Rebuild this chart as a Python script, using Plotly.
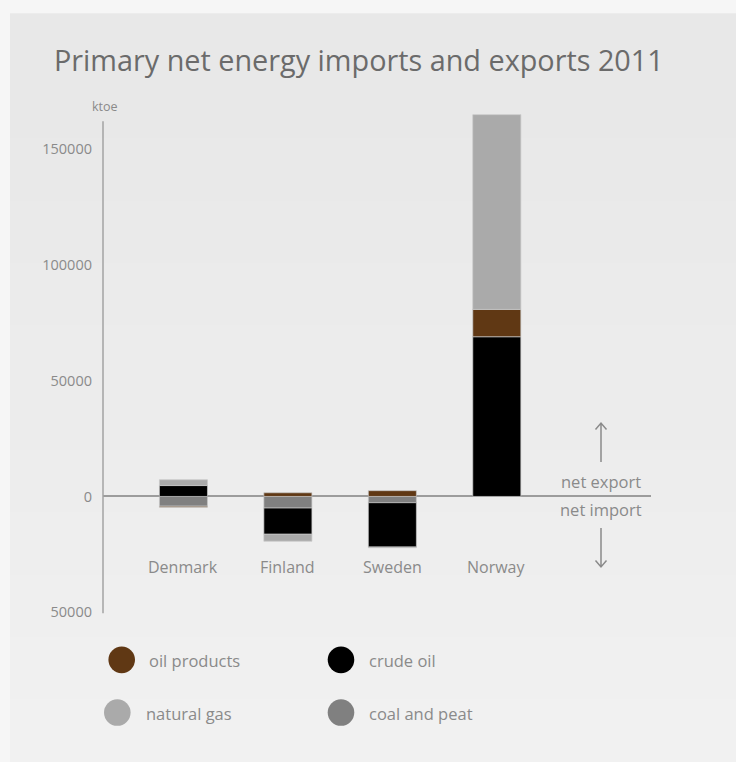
import plotly.graph_objects as go

# ---------------- data ----------------
countries = ["Denmark", "Finland", "Sweden", "Norway"]
coal_and_peat = [-4200, -5000, -2700, 0]
crude_oil = [4700, -11300, -19100, 68900]
oil_products = [-430, 1600, 2500, 11800]
natural_gas = [2500, -3000, -300, 84000]

y_tickvals = [-50000, 0, 50000, 100000, 150000]
y_ticktext = ["50000", "0", "50000", "100000", "150000"]

legend_order = ["oil products", "crude oil", "natural gas", "coal and peat"]
colors = {
    "oil products": "#603814",
    "crude oil": "#000000",
    "natural gas": "#aaaaaa",
    "coal and peat": "#808080",
}

# ---------------- geometry ----------------
W, H = 736, 762
L, R, T, B = 103, 85, 106.7, 144.9
PW, PH = W - L - R, H - T - B


def px(x):
    return (x - L) / PW


def py(y):
    return 1 - (y - T) / PH


FONT = "Open Sans"
TXT = "#8a8a8a"

fig = go.Figure()
series = [("coal and peat", coal_and_peat), ("crude oil", crude_oil),
          ("oil products", oil_products), ("natural gas", natural_gas)]
for name, vals in series:
    fig.add_trace(go.Bar(
        x=countries, y=vals, name=name, width=0.46,
        marker=dict(color=colors[name], line=dict(color="rgba(200,200,200,0.7)", width=1)),
        showlegend=False, hoverinfo="x+y+name",
    ))

shapes = []
# background panel with soft vertical gradient
n = 12
top, bot = 13, H
for i in range(n):
    y0 = top + (bot - top) * i / n
    y1 = top + (bot - top) * (i + 1) / n
    c = int(232 + (241 - 232) * i / (n - 1))
    shapes.append(dict(type="rect", xref="paper", yref="paper", layer="below",
                       x0=px(10), x1=px(W + 2), y0=py(y1 + 1), y1=py(y0),
                       fillcolor=f"rgb({c},{c},{c})", line=dict(width=0)))
# y axis line
shapes.append(dict(type="line", xref="paper", yref="y", x0=0, x1=0,
                   y0=-50400, y1=161800, line=dict(color="#a3a3a3", width=1.5)))
# arrows
ac = "#8a8a8a"
shapes.append(dict(type="path", xref="paper", yref="paper",
                   path=f"M {px(601)},{py(462)} L {px(601)},{py(423)} "
                        f"M {px(595.5)},{py(429.5)} L {px(601)},{py(423)} L {px(606.5)},{py(429.5)}",
                   line=dict(color=ac, width=1.5)))
shapes.append(dict(type="path", xref="paper", yref="paper",
                   path=f"M {px(601)},{py(528)} L {px(601)},{py(567)} "
                        f"M {px(595.5)},{py(560.5)} L {px(601)},{py(567)} L {px(606.5)},{py(560.5)}",
                   line=dict(color=ac, width=1.5)))

# legend (drawn manually: large circles)
leg_pos = {
    "oil products": (121.7, 660, 147.3),
    "crude oil": (341, 660, 366.7),
    "natural gas": (117.3, 712.7, 144),
    "coal and peat": (341, 712.7, 366.7),
}
annotations = []
rad = 13.3
for name in legend_order:
    cx, cy, tx = leg_pos[name]
    shapes.append(dict(type="circle", xref="paper", yref="paper",
                       x0=px(cx - rad), x1=px(cx + rad), y0=py(cy + rad), y1=py(cy - rad),
                       fillcolor=colors[name], line=dict(width=0)))
    annotations.append(dict(text=name, xref="paper", yref="paper", x=px(tx), y=py(cy + 1),
                            xanchor="left", yanchor="middle", showarrow=False,
                            font=dict(family=FONT, size=16.5, color=TXT)))

# category labels
for c in countries:
    annotations.append(dict(text=c, xref="x", yref="paper", x=c, y=py(567),
                            xanchor="center", yanchor="middle", showarrow=False,
                            font=dict(family=FONT, size=16, color=TXT)))

annotations += [
    dict(text="Primary net energy imports and exports 2011", xref="paper", yref="paper",
         x=px(52), y=py(59), xanchor="left", yanchor="middle", showarrow=False,
         font=dict(family=FONT, size=28.8, color="#6b6b6b")),
    dict(text="ktoe", xref="paper", yref="paper", x=px(104.5), y=py(106),
         xanchor="center", yanchor="middle", showarrow=False,
         font=dict(family=FONT, size=12.5, color=TXT)),
    dict(text="net export", xref="paper", yref="paper", x=px(601), y=py(481.5),
         xanchor="center", yanchor="middle", showarrow=False,
         font=dict(family=FONT, size=16.5, color=TXT)),
    dict(text="net import", xref="paper", yref="paper", x=px(601), y=py(510),
         xanchor="center", yanchor="middle", showarrow=False,
         font=dict(family=FONT, size=16.5, color=TXT)),
]

fig.update_layout(
    width=W, height=H,
    margin=dict(l=L, r=R, t=T, b=B, pad=0),
    paper_bgcolor="#f6f6f6", plot_bgcolor="rgba(0,0,0,0)",
    barmode="relative", bargap=0.5,
    showlegend=False,
    shapes=shapes, annotations=annotations,
    font=dict(family=FONT, color=TXT),
    xaxis=dict(range=[-0.77, 4.476], showticklabels=False, showgrid=False,
               zeroline=False, showline=False, fixedrange=True),
    yaxis=dict(range=[-52000, 168000], tickvals=y_tickvals, ticktext=y_ticktext,
               showgrid=False, showline=False, zeroline=True, zerolinecolor="#9c9c9c",
               zerolinewidth=1.5, ticks="", ticklabelstandoff=10,
               tickfont=dict(family=FONT, size=14.5, color=TXT), fixedrange=True),
)

fig.write_html("out.html")
